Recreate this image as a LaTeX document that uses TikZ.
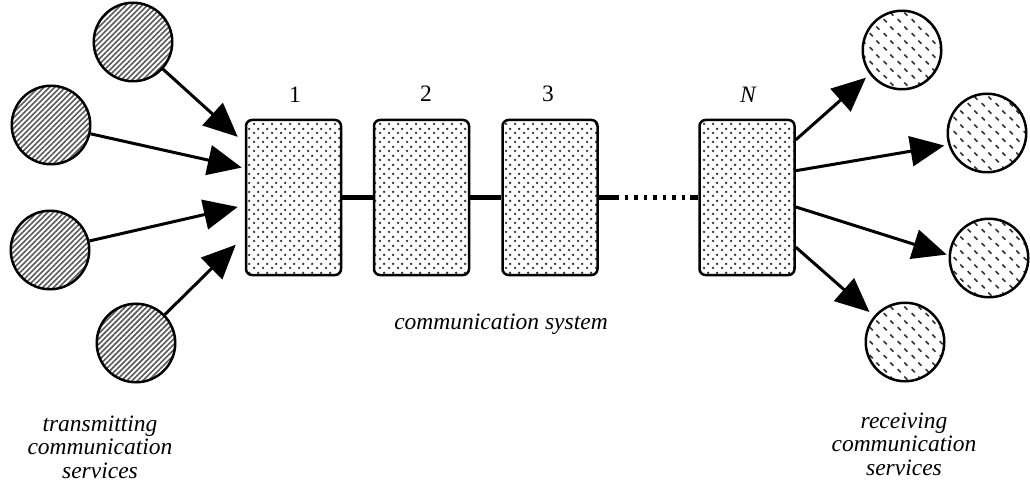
\documentclass[tikz,border=0pt]{standalone}
\usepackage{fontspec}
\setmainfont{Liberation Serif}
\usetikzlibrary{arrows.meta,patterns,patterns.meta,calc}

% staggered dot raster for the system blocks
\pgfdeclarepatternformonly{blockdots}{\pgfqpoint{0pt}{0pt}}{\pgfqpoint{9pt}{9pt}}{\pgfqpoint{9pt}{9pt}}{%
  \pgfpathcircle{\pgfqpoint{2.25pt}{2.25pt}}{1.4pt}%
  \pgfpathcircle{\pgfqpoint{6.75pt}{6.75pt}}{1.4pt}%
  \pgfusepath{fill}%
}
% short slanted dashes for the receiving services
\pgfdeclarepatternformonly{slashdash}{\pgfqpoint{0pt}{0pt}}{\pgfqpoint{14pt}{14pt}}{\pgfqpoint{14pt}{14pt}}{%
  \pgfsetlinewidth{1.7pt}%
  \pgfpathmoveto{\pgfqpoint{1.8pt}{5.2pt}}\pgfpathlineto{\pgfqpoint{5.2pt}{1.8pt}}%
  \pgfpathmoveto{\pgfqpoint{8.8pt}{12.2pt}}\pgfpathlineto{\pgfqpoint{12.2pt}{8.8pt}}%
  \pgfusepath{stroke}%
}

\tikzset{
  txtfont/.style={font=\fontsize{23.5}{23.5}\selectfont},
  block/.style={draw, line width=2.5pt, rounded corners=6pt, rectangle,
    minimum width=95pt, minimum height=155pt, inner sep=0pt,
    pattern=blockdots, pattern color=black!80},
  sender/.style={draw, line width=2.5pt, circle, minimum size=78.5pt, inner sep=0pt,
    pattern={Lines[angle=45,distance=3.8pt,line width=1.6pt]}, pattern color=black!65},
  receiver/.style={draw, line width=2.5pt, circle, minimum size=78.5pt, inner sep=0pt,
    pattern=slashdash, pattern color=black!80},
  flow/.style={line width=3pt, -{Triangle[length=34pt,width=30pt]}},
  link/.style={line width=5pt},
  linkgap/.style={line width=4.5pt, dash pattern=on 3.5pt off 6pt},
  num/.style={txtfont, anchor=base, inner sep=0pt},
  lab/.style={txtfont, font=\fontsize{23.5}{23.5}\selectfont\itshape, align=center, inner sep=0pt}
}

\begin{document}
\begin{tikzpicture}[x=1pt, y=-1pt]
\useasboundingbox (0,0) rectangle (1030,486);

% system blocks
\node[block] (b1) at (293.5,197.5) {};
\node[block] (b2) at (421.5,197.5) {};
\node[block] (b3) at (550,197.5) {};
\node[block] (bN) at (747,197.5) {};

\node[num] (n1) at (295,103) {1};
\node[num] (n2) at (426,102) {2};
\node[num] (n3) at (548,102) {3};
\node[num] (nN) at (748,103) {\itshape N};

% chain between the blocks
\coordinate (g1) at (615,197.5);
\coordinate (g2) at (690,197.5);
\draw[link] (b1) -- (b2);
\draw[link] (b2) -- (b3);
\draw[link] (b3) -- (g1);
\draw[linkgap] (g1) -- (g2);
\draw[link] (g2) -- (bN);

% transmitting services
\node[sender] (s1) at (133,42) {};
\node[sender] (s2) at (51,125) {};
\node[sender] (s3) at (50,250) {};
\node[sender] (s4) at (136,343) {};

\coordinate (t1) at ($(b1.north west)!0.115!(b1.south west)+(-7,0)$);
\coordinate (t2) at ($(b1.north west)!0.31!(b1.south west)+(-3,0)$);
\coordinate (t3) at ($(b1.north west)!0.56!(b1.south west)+(-7,0)$);
\coordinate (t4) at ($(b1.north west)!0.80!(b1.south west)+(-9,0)$);
\draw[flow] (s1) -- (t1);
\draw[flow] (s2) -- (t2);
\draw[flow] (s3) -- (t3);
\draw[flow] (s4) -- (t4);

% receiving services
\node[receiver] (r1) at (902,50) {};
\node[receiver] (r2) at (987,133) {};
\node[receiver] (r3) at (989,258) {};
\node[receiver] (r4) at (905,342) {};

\coordinate (o1) at ($(bN.north east)!0.134!(bN.south east)$);
\coordinate (o2) at ($(bN.north east)!0.33!(bN.south east)$);
\coordinate (o3) at ($(bN.north east)!0.56!(bN.south east)$);
\coordinate (o4) at ($(bN.north east)!0.815!(bN.south east)$);
\draw[flow, shorten >=5pt] (o1) -- (r1.217);
\draw[flow, shorten >=4pt] (o2) -- (r2.197);
\draw[flow, shorten >=2pt] (o3) -- (r3.176);
\draw[flow, shorten >=6pt] (o4) -- (r4.140);

% captions
\node[lab, anchor=base] (sys) at (501,329) {communication system};
\node[lab] (tx) at (100,447) {transmitting\\communication\\services};
\node[lab] (rx) at (904,444) {receiving\\communication\\services};
\end{tikzpicture}
\end{document}
